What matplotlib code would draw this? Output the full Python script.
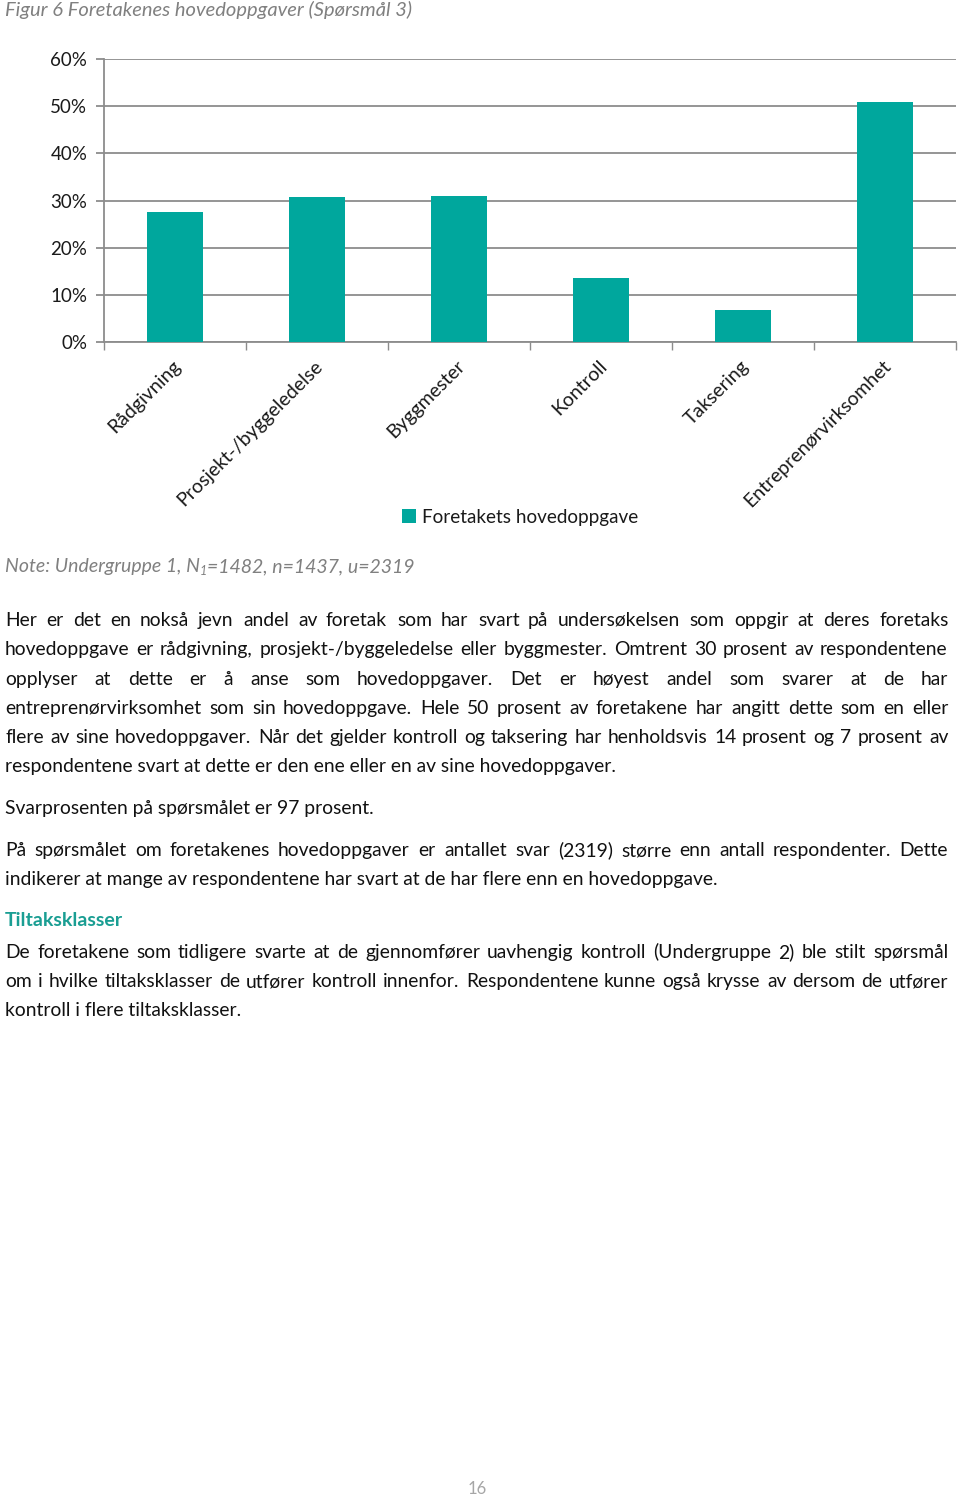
import unicodedata
import matplotlib
matplotlib.use('Agg')
import matplotlib.pyplot as plt
from matplotlib.patches import Patch
from matplotlib.transforms import blended_transform_factory, offset_copy

plt.rcParams['font.family'] = 'Lato'

# data
categories = ['Rådgivning', 'Prosjekt-/byggeledelse', 'Byggmester',
              'Kontroll', 'Taksering', 'Entreprenørvirksomhet']
shares = [27.6, 30.7, 31.0, 13.6, 6.8, 50.9]
yticks = [0, 10, 20, 30, 40, 50, 60]
series_name = 'Foretakets hovedoppgave'

title = 'Figur 6 Foretakenes hovedoppgaver (Spørsmål 3)'
note_parts = ['Note: Undergruppe 1, N', '1', '=1482, n=1437, u=2319']

# body text, one entry per printed line: (text, y, justified, style)
body = [
    ('Her er det en nokså jevn andel av foretak som har svart på undersøkelsen som oppgir at deres foretaks', 620, True, 'p'),
    ('hovedoppgave er rådgivning, prosjekt-/byggeledelse eller byggmester. Omtrent 30 prosent av respondentene', 649, True, 'p'),
    ('opplyser at dette er å anse som hovedoppgaver. Det er høyest andel som svarer at de har', 679, True, 'p'),
    ('entreprenørvirksomhet som sin hovedoppgave. Hele 50 prosent av foretakene har angitt dette som en eller', 708, True, 'p'),
    ('flere av sine hovedoppgaver. Når det gjelder kontroll og taksering har henholdsvis 14 prosent og 7 prosent av', 737, True, 'p'),
    ('respondentene svart at dette er den ene eller en av sine hovedoppgaver.', 766, False, 'p'),
    ('Svarprosenten på spørsmålet er 97 prosent.', 808, False, 'p'),
    ('På spørsmålet om foretakenes hovedoppgaver er antallet svar (2319) større enn antall respondenter. Dette', 850, True, 'p'),
    ('indikerer at mange av respondentene har svart at de har flere enn en hovedoppgave.', 879, False, 'p'),
    ('Tiltaksklasser', 920, False, 'h'),
    ('De foretakene som tidligere svarte at de gjennomfører uavhengig kontroll (Undergruppe 2) ble stilt spørsmål', 952, True, 'p'),
    ('om i hvilke tiltaksklasser de utfører kontroll innenfor. Respondentene kunne også krysse av dersom de utfører', 981, True, 'p'),
    ('kontroll i flere tiltaksklasser.', 1010, False, 'p'),
]

W, H = 960, 1499
teal = '#00A79D'
grid = '#8C8C8C'
grey_txt = '#808080'

fig = plt.figure(figsize=(W / 100, H / 100), dpi=100)
fig.patch.set_facecolor('white')

def fy(y):
    return 1 - y / H

def fx(x):
    return x / W

# chart
ax = fig.add_axes([fx(104), fy(342), fx(956) - fx(104), fy(59) - fy(342)])
x = list(range(len(categories)))
ax.bar(x, shares, width=0.4, color=teal, zorder=3)
ax.set_xlim(-0.5, len(categories) - 0.5)
ax.set_ylim(0, 60)
ax.set_yticks(yticks)
ax.set_yticklabels([f'{v}%' for v in yticks], fontsize=13.5, color='#1a1a1a')
ax.yaxis.grid(True, color=grid, linewidth=1.3, zorder=0)
ax.set_xticks([i - 0.5 for i in range(len(categories) + 1)])
ax.set_xticklabels([])
ax.tick_params(axis='x', length=6, width=1, color=grid, direction='out')
ax.tick_params(axis='y', length=6, width=1.3, color=grid, pad=6)
for s in ['top', 'right']:
    ax.spines[s].set_visible(False)
for s in ['left', 'bottom']:
    ax.spines[s].set_color(grid)
    ax.spines[s].set_linewidth(1.3)

trans = blended_transform_factory(ax.transData, ax.transAxes)
for i, c in enumerate(categories):
    t = offset_copy(trans, fig=fig, x=-3, y=-15, units='dots')
    ax.text(i, 0, c, transform=t, rotation=45, rotation_mode='anchor',
            ha='right', va='top', fontsize=14, color='#1a1a1a')

fig.legend(handles=[Patch(facecolor=teal, edgecolor='none')], labels=[series_name],
           loc='center left', bbox_to_anchor=(fx(393), fy(517)), frameon=False,
           fontsize=13.6, handlelength=0.7, handleheight=0.7, handletextpad=0.35,
           borderpad=0, labelcolor='#1a1a1a')

# page text
fig.text(fx(5), fy(10), title, fontsize=14.5, style='italic', color=grey_txt,
         va='center', ha='left')

renderer = fig.canvas.get_renderer()

def width_of(s, **kw):
    t = fig.text(0, 0, s, **kw)
    w = t.get_window_extent(renderer).width
    t.remove()
    return w

note_kw = dict(fontsize=14, style='italic', color=grey_txt)
xpos = 5
t1 = fig.text(fx(xpos), fy(572), note_parts[0], va='baseline', ha='left', **note_kw)
xpos += t1.get_window_extent(renderer).width
t2 = fig.text(fx(xpos), fy(575), note_parts[1], va='baseline', ha='left',
              fontsize=9, style='italic', color=grey_txt)
xpos += t2.get_window_extent(renderer).width
fig.text(fx(xpos), fy(572), note_parts[2], va='baseline', ha='left', **note_kw)

body_kw = dict(fontsize=13.9, color='#111111')
head_kw = dict(fontsize=14, color='#1A9E93', weight='bold')
left, right = 5, 948
for line, y, just, style in body:
    line = unicodedata.normalize('NFC', line)
    kw = head_kw if style == 'h' else body_kw
    yb = fy(y + 6)
    if not just:
        fig.text(fx(left), yb, line, va='baseline', ha='left', **kw)
        continue
    words = line.split(' ')
    widths = [width_of(w, **kw) for w in words]
    gap = (right - left - sum(widths)) / (len(words) - 1)
    xx = left
    for w, ww in zip(words, widths):
        fig.text(fx(round(xx)), yb, w, va='baseline', ha='left', **kw)
        xx += ww + gap

fig.text(fx(477), fy(1489), '16', fontsize=12, color='#A6A6A6', ha='center', va='center')

fig.savefig('out.png', dpi=100, facecolor='white')
